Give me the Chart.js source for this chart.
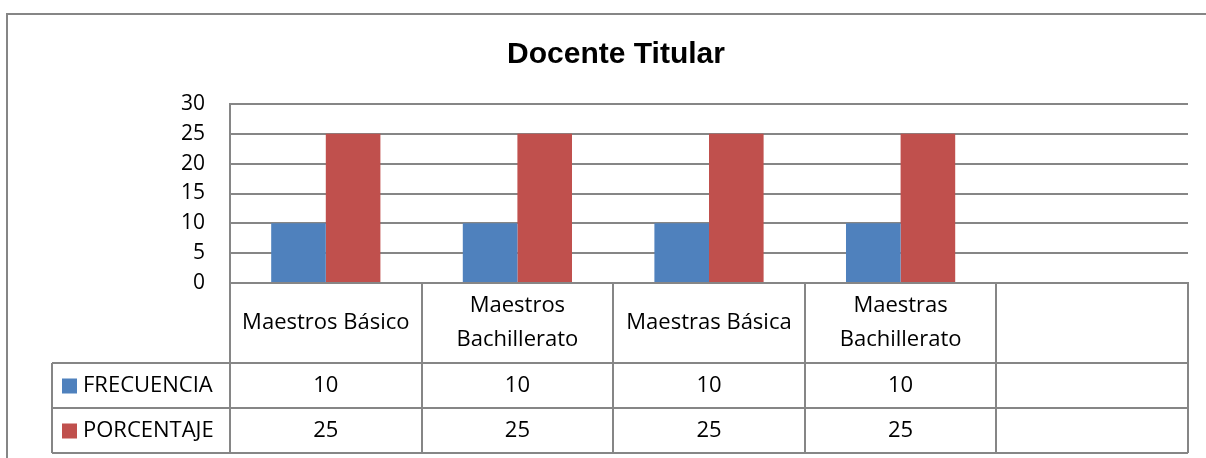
<!DOCTYPE html>
<html>
<head>
<meta charset="utf-8">
<script src="https://cdn.jsdelivr.net/npm/chart.js@4/dist/chart.umd.min.js"></script>
<style>
  html, body { margin: 0; padding: 0; background: #fff; }
  #wrap { position: relative; width: 1206px; height: 458px; }
</style>
</head>
<body>
<div id="wrap"><canvas id="chart" width="1206" height="458"></canvas></div>
<script>
'use strict';

// chart data
const titleText = 'Docente Titular';
const categories = ['Maestros Básico', ['Maestros', 'Bachillerato'], 'Maestras Básica', ['Maestras', 'Bachillerato'], ''];
const seriesNames = ['FRECUENCIA', 'PORCENTAJE'];
const frecuencia = [10, 10, 10, 10, null];
const porcentaje = [25, 25, 25, 25, null];
const yMax = 30;
const yStep = 5;

const colors = ['#4F81BD', '#C0504D'];
const lineColor = '#868686';
const textFont = '"Open Sans", "Noto Sans", sans-serif';

// draws the outer frame of the chart
const framePlugin = {
    id: 'frame',
    beforeDraw(chart) {
        let ctx = chart.ctx;
        ctx.save();
        ctx.fillStyle = '#fff';
        ctx.fillRect(0, 0, chart.width, chart.height);
        ctx.strokeStyle = lineColor;
        ctx.lineWidth = 2;
        ctx.strokeRect(7, 14, chart.width + 20, chart.height + 20);
        ctx.restore();
    }
};

// draws the data table under the plot, using the x scale for its columns
const tablePlugin = {
    id: 'dataTable',
    afterDraw(chart) {
        let ctx = chart.ctx;
        let area = chart.chartArea;
        let x = chart.scales.x;
        let n = categories.length;
        let colW = (area.right - area.left) / n;
        let headTop = area.bottom;
        let rowTops = [363, 408];
        let rowH = 45;
        let tableBottom = rowTops[1] + rowH;
        let legendLeft = 52;

        ctx.save();
        ctx.strokeStyle = lineColor;
        ctx.lineWidth = 2;

        // column lines
        for (let i = 0; i <= n; i++) {
            let cx = Math.round(area.left + i * colW);
            ctx.beginPath();
            ctx.moveTo(cx, headTop);
            ctx.lineTo(cx, tableBottom);
            ctx.stroke();
        }
        // legend column left line
        ctx.beginPath();
        ctx.moveTo(legendLeft, rowTops[0]);
        ctx.lineTo(legendLeft, tableBottom);
        ctx.stroke();
        // row lines
        for (let y of [rowTops[0], rowTops[1], tableBottom]) {
            ctx.beginPath();
            ctx.moveTo(legendLeft, y);
            ctx.lineTo(area.right, y);
            ctx.stroke();
        }

        ctx.fillStyle = '#000';
        ctx.font = '22px ' + textFont;
        ctx.textAlign = 'center';
        ctx.textBaseline = 'middle';

        // header labels
        for (let i = 0; i < n; i++) {
            let cx = x.getPixelForValue(i);
            let lines = Array.isArray(categories[i]) ? categories[i] : [categories[i]];
            let lh = 34;
            let cy = (headTop + rowTops[0]) / 2 - (lines.length - 1) * lh / 2;
            lines.forEach((t, k) => ctx.fillText(t, cx, cy + k * lh));
        }

        // series rows
        let series = [frecuencia, porcentaje];
        series.forEach((vals, r) => {
            let cy = rowTops[r] + rowH / 2;
            ctx.fillStyle = colors[r];
            ctx.fillRect(62, cy - 7, 15, 15);
            ctx.fillStyle = '#000';
            ctx.textAlign = 'left';
            ctx.fillText(seriesNames[r], 83, cy);
            ctx.textAlign = 'center';
            for (let i = 0; i < n; i++) {
                if (vals[i] != null) {
                    ctx.fillText(String(vals[i]), x.getPixelForValue(i), cy);
                }
            }
        });
        ctx.restore();
    }
};

let ctx = document.getElementById('chart').getContext('2d');
let chart = new Chart(ctx, {
    type: 'bar',
    data: {
        labels: categories,
        datasets: [
            { label: seriesNames[0], data: frecuencia, backgroundColor: colors[0] },
            { label: seriesNames[1], data: porcentaje, backgroundColor: colors[1] }
        ]
    },
    options: {
        responsive: false,
        animation: false,
        events: [],
        layout: { padding: { left: 44, right: 18, top: 0, bottom: 5 } },
        datasets: { bar: { barPercentage: 1, categoryPercentage: 0.57 } },
        plugins: {
            legend: { display: false },
            tooltip: { enabled: false },
            title: {
                display: true,
                text: titleText,
                color: '#000',
                font: { family: '"Liberation Sans", Arial, sans-serif', size: 30, weight: 'bold' },
                padding: { top: 37, bottom: 31 }
            }
        },
        scales: {
            x: {
                ticks: { display: false },
                grid: { display: false },
                border: { display: true, color: lineColor, width: 2 },
                afterFit(scale) { scale.height = 170; }
            },
            y: {
                min: 0,
                max: yMax,
                ticks: {
                    stepSize: yStep,
                    color: '#000',
                    padding: 25,
                    font: { family: textFont, size: 21 }
                },
                grid: { color: lineColor, lineWidth: 2, drawTicks: false },
                border: { display: true, color: lineColor, width: 2 },
                afterFit(scale) { scale.width = 186; }
            }
        }
    },
    plugins: [framePlugin, tablePlugin]
});
</script>
</body>
</html>
